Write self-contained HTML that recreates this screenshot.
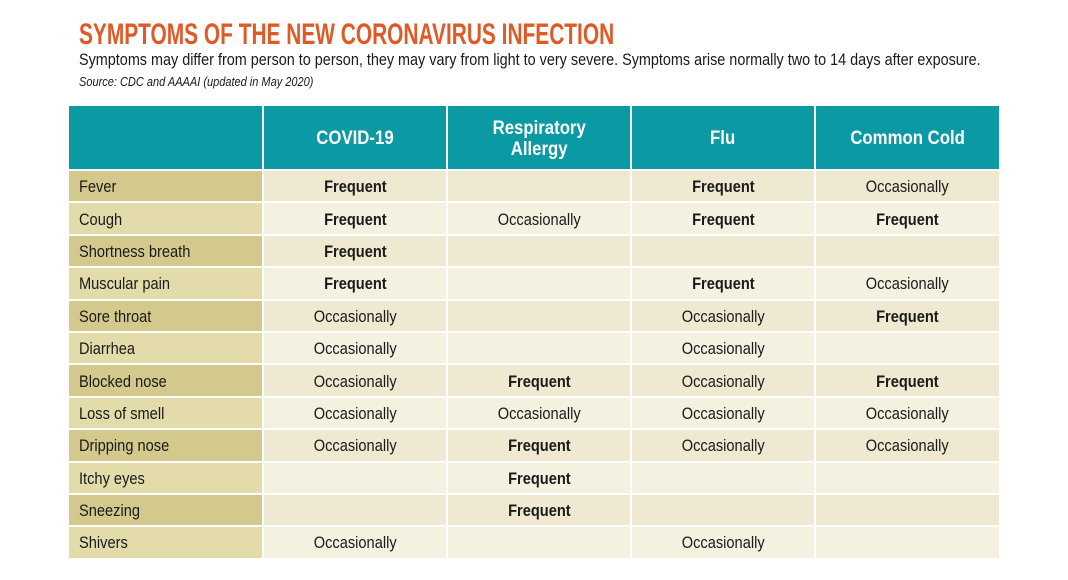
<!DOCTYPE html>
<html><head><meta charset="utf-8"><style>
*{margin:0;padding:0;box-sizing:border-box}
body{width:1068px;height:580px;background:#fff;font-family:"Liberation Sans",sans-serif;position:relative;overflow:hidden;color:#1a1a1a}
.x{display:inline-block;white-space:nowrap;transform-origin:left top}
.t{position:absolute;left:79px;top:18px;font-size:30px;font-weight:bold;color:#e05a26;transform:scaleX(0.696)}
.s{position:absolute;left:79px;top:50px;font-size:17px;transform:scaleX(0.847)}
.src{position:absolute;left:79px;top:75px;font-size:12.5px;font-style:italic;transform:scaleX(0.88)}
table{position:absolute;left:67px;top:106px;border-collapse:separate;border-spacing:2px 0}
td,th{font-size:17px;height:32.4px;border-bottom:2px solid #fff;text-align:center;padding-top:2px}
th{background:#0b9aa3;color:#fff;font-size:19.5px;height:65px;line-height:21px}
td.l{text-align:left;padding-left:10px;width:193px}
td.c{width:182px}
td span,th span{display:inline-block;transform:scaleX(0.86)}
td.l span{transform-origin:left center}
tr:nth-child(even) td.l{background:#d4c98c}
tr:nth-child(odd) td.l{background:#e3dbaa}
tr:nth-child(even) td.c{background:#efe9d1}
tr:nth-child(odd) td.c{background:#f5f1e1}
</style></head><body>
<div class="x t">SYMPTOMS OF THE NEW CORONAVIRUS INFECTION</div>
<div class="x s">Symptoms may differ from person to person, they may vary from light to very severe. Symptoms arise normally two to 14 days after exposure.</div>
<div class="x src">Source: CDC and AAAAI (updated in May 2020)</div>
<table>
<tr><th style="width:193px"></th><th style="width:182px"><span>COVID-19</span></th><th style="width:182px"><span>Respiratory<br>Allergy</span></th><th style="width:182px"><span>Flu</span></th><th style="width:183px"><span>Common Cold</span></th></tr>
<tr><td class="l"><span>Fever</span></td><td class="c"><span><b>Frequent</b></span></td><td class="c"></td><td class="c"><span><b>Frequent</b></span></td><td class="c"><span>Occasionally</span></td></tr>
<tr><td class="l"><span>Cough</span></td><td class="c"><span><b>Frequent</b></span></td><td class="c"><span>Occasionally</span></td><td class="c"><span><b>Frequent</b></span></td><td class="c"><span><b>Frequent</b></span></td></tr>
<tr><td class="l"><span>Shortness breath</span></td><td class="c"><span><b>Frequent</b></span></td><td class="c"></td><td class="c"></td><td class="c"></td></tr>
<tr><td class="l"><span>Muscular pain</span></td><td class="c"><span><b>Frequent</b></span></td><td class="c"></td><td class="c"><span><b>Frequent</b></span></td><td class="c"><span>Occasionally</span></td></tr>
<tr><td class="l"><span>Sore throat</span></td><td class="c"><span>Occasionally</span></td><td class="c"></td><td class="c"><span>Occasionally</span></td><td class="c"><span><b>Frequent</b></span></td></tr>
<tr><td class="l"><span>Diarrhea</span></td><td class="c"><span>Occasionally</span></td><td class="c"></td><td class="c"><span>Occasionally</span></td><td class="c"></td></tr>
<tr><td class="l"><span>Blocked nose</span></td><td class="c"><span>Occasionally</span></td><td class="c"><span><b>Frequent</b></span></td><td class="c"><span>Occasionally</span></td><td class="c"><span><b>Frequent</b></span></td></tr>
<tr><td class="l"><span>Loss of smell</span></td><td class="c"><span>Occasionally</span></td><td class="c"><span>Occasionally</span></td><td class="c"><span>Occasionally</span></td><td class="c"><span>Occasionally</span></td></tr>
<tr><td class="l"><span>Dripping nose</span></td><td class="c"><span>Occasionally</span></td><td class="c"><span><b>Frequent</b></span></td><td class="c"><span>Occasionally</span></td><td class="c"><span>Occasionally</span></td></tr>
<tr><td class="l"><span>Itchy eyes</span></td><td class="c"></td><td class="c"><span><b>Frequent</b></span></td><td class="c"></td><td class="c"></td></tr>
<tr><td class="l"><span>Sneezing</span></td><td class="c"></td><td class="c"><span><b>Frequent</b></span></td><td class="c"></td><td class="c"></td></tr>
<tr><td class="l"><span>Shivers</span></td><td class="c"><span>Occasionally</span></td><td class="c"></td><td class="c"><span>Occasionally</span></td><td class="c"></td></tr>
</table>
</body></html>
